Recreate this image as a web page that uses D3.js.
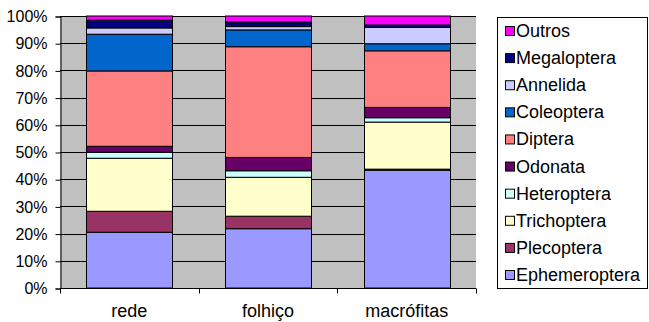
<!DOCTYPE html>
<html>
<head>
<meta charset="utf-8">
<script src="https://cdn.jsdelivr.net/npm/d3@7"></script>
<style>
  html, body { margin: 0; padding: 0; background: #ffffff; }
  svg { display: block; }
  text { font-family: "Liberation Sans", Arial, sans-serif; }
</style>
</head>
<body>
<svg id="chart" width="649" height="322"></svg>
<script>
// Sampling sites (x categories)
const categories = ["rede", "folhiço", "macrófitas"];

// Taxa, stacked from the bottom up
const taxa = ["Ephemeroptera", "Plecoptera", "Trichoptera", "Heteroptera", "Odonata",
              "Diptera", "Coleoptera", "Annelida", "Megaloptera", "Outros"];

// Relative abundance (%) of each taxon per site
const ephemeroptera = [20.5, 21.8, 43.3];
const plecoptera    = [7.7, 4.6, 0.4];
const trichoptera   = [19.5, 14.3, 17.3];
const heteroptera   = [2.2, 2.4, 1.6];
const odonata       = [2.2, 4.9, 3.8];
const diptera       = [27.7, 40.7, 20.8];
const coleoptera    = [13.5, 6.2, 2.6];
const annelida      = [2.3, 1.2, 6.0];
const megaloptera   = [2.9, 1.7, 0.9];
const outros        = [1.5, 2.2, 3.3];

// Y axis tick labels
const yTicks = [0, 10, 20, 30, 40, 50, 60, 70, 80, 90, 100];

const colors = {
  Ephemeroptera: "#9999FF", Plecoptera: "#993366", Trichoptera: "#FFFFCC",
  Heteroptera: "#CCFFFF", Odonata: "#660066", Diptera: "#FF8080",
  Coleoptera: "#0066CC", Annelida: "#CCCCFF", Megaloptera: "#000080",
  Outros: "#FF00FF"
};

const seriesValues = {
  Ephemeroptera: ephemeroptera, Plecoptera: plecoptera, Trichoptera: trichoptera,
  Heteroptera: heteroptera, Odonata: odonata, Diptera: diptera,
  Coleoptera: coleoptera, Annelida: annelida, Megaloptera: megaloptera,
  Outros: outros
};

// Rows for d3.stack
const rows = categories.map((c, i) => {
  const r = { site: c };
  taxa.forEach(t => { r[t] = seriesValues[t][i]; });
  return r;
});

const svg = d3.select("#chart");
const plot = { left: 60, right: 476, top: 16, bottom: 288 };

const x = d3.scaleBand()
  .domain(categories)
  .range([plot.left, plot.right])
  .paddingInner(0.38)
  .paddingOuter(0.19);

const y = d3.scaleLinear().domain([0, 100]).range([plot.bottom, plot.top]);

// Plot background
svg.append("rect")
  .attr("x", plot.left).attr("y", plot.top)
  .attr("width", plot.right - plot.left).attr("height", plot.bottom - plot.top)
  .attr("fill", "#C0C0C0");

// Horizontal gridlines
svg.append("g")
  .selectAll("line")
  .data(yTicks.filter(d => d > 0))
  .join("line")
  .attr("x1", plot.left).attr("x2", plot.right)
  .attr("y1", d => Math.round(y(d)) + 0.5).attr("y2", d => Math.round(y(d)) + 0.5)
  .attr("stroke", "#000").attr("stroke-width", 1);

// Stacked bars
const stack = d3.stack().keys(taxa);
const layers = stack(rows);

svg.append("g")
  .selectAll("g")
  .data(layers)
  .join("g")
  .attr("fill", d => colors[d.key])
  .selectAll("rect")
  .data(d => d)
  .join("rect")
  .attr("x", d => Math.round(x(d.data.site)) + 0.5)
  .attr("width", Math.round(x.bandwidth()))
  .attr("y", d => y(d[1]))
  .attr("height", d => y(d[0]) - y(d[1]))
  .attr("stroke", "#000")
  .attr("stroke-width", 1);

// Y axis
const yAxis = d3.axisLeft(y)
  .tickValues(yTicks)
  .tickSize(5)
  .tickPadding(8)
  .tickFormat(d => d + "%");

const gy = svg.append("g")
  .attr("transform", `translate(${plot.left + 0.5},0.5)`)
  .call(yAxis);
gy.select(".domain").attr("stroke", "#000");
gy.selectAll(".tick line").attr("stroke", "#000");
gy.selectAll("text")
  .attr("font-size", 16)
  .attr("fill", "#000")
  .attr("font-family", "Liberation Sans, Arial, sans-serif");

// X axis: line with tick marks at category boundaries
const gx = svg.append("g").attr("transform", `translate(0,${plot.bottom + 0.5})`);
gx.append("line")
  .attr("x1", plot.left).attr("x2", plot.right)
  .attr("stroke", "#000");
const boundaries = d3.range(categories.length + 1).map(i => plot.left + i * (plot.right - plot.left) / categories.length);
gx.selectAll("line.tk")
  .data(boundaries)
  .join("line")
  .attr("class", "tk")
  .attr("x1", d => Math.round(d) + 0.5).attr("x2", d => Math.round(d) + 0.5)
  .attr("y1", 0).attr("y2", 5)
  .attr("stroke", "#000");
gx.selectAll("text")
  .data(categories)
  .join("text")
  .attr("x", d => x(d) + x.bandwidth() / 2)
  .attr("y", 28)
  .attr("text-anchor", "middle")
  .attr("font-size", 18)
  .attr("fill", "#000")
  .text(d => d);

// Legend (top entry is the top of the stack)
const legend = svg.append("g");
legend.append("rect")
  .attr("x", 497.5).attr("y", 17.5)
  .attr("width", 150).attr("height", 271)
  .attr("fill", "#fff")
  .attr("stroke", "#000");

const legendItems = taxa.slice().reverse();
const ly = d3.scalePoint().domain(legendItems).range([31, 275]);

const li = legend.selectAll("g.item")
  .data(legendItems)
  .join("g")
  .attr("class", "item")
  .attr("transform", d => `translate(0,${ly(d)})`);
li.append("rect")
  .attr("x", 505.5).attr("y", -4.5)
  .attr("width", 9).attr("height", 9)
  .attr("fill", d => colors[d])
  .attr("stroke", "#000");
li.append("text")
  .attr("x", 516)
  .attr("y", 6)
  .attr("font-size", 18)
  .attr("fill", "#000")
  .text(d => d);
</script>
</body>
</html>
